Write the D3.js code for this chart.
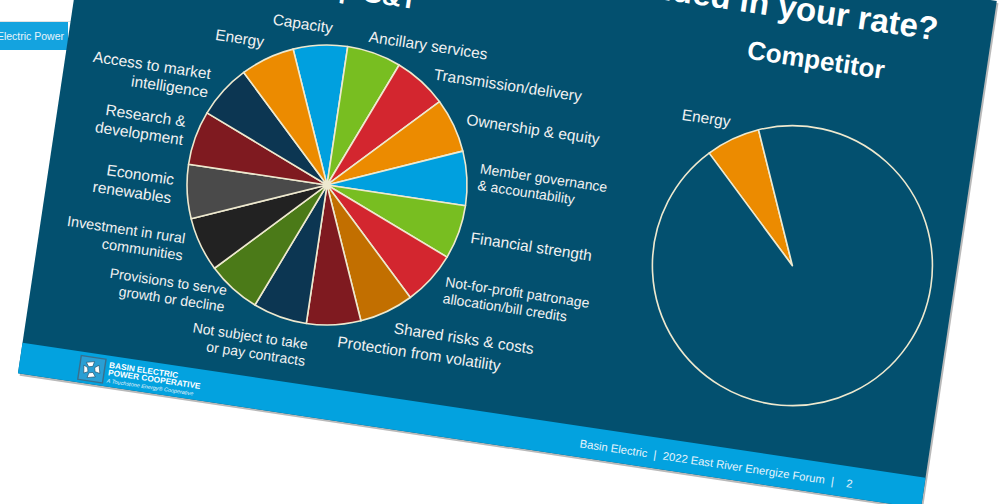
<!DOCTYPE html>
<html>
<head>
<meta charset="utf-8">
<script src="https://cdn.jsdelivr.net/npm/d3@7"></script>
<style>
  html, body { margin: 0; padding: 0; background: #fff; overflow: hidden; }
  text { font-family: "Liberation Sans", Arial, sans-serif; }
</style>
</head>
<body>
<div id="chart"></div>
<script>
// --- data ---
const coopCategories = [
    "Capacity", "Ancillary services", "Transmission/delivery", "Ownership & equity",
    "Member governance\n& accountability", "Financial strength",
    "Not-for-profit patronage\nallocation/bill credits", "Shared risks & costs",
    "Protection from volatility", "Not subject to take\nor pay contracts",
    "Provisions to serve\ngrowth or decline", "Investment in rural\ncommunities",
    "Economic\nrenewables", "Research &\ndevelopment", "Access to market\nintelligence", "Energy"
]
const coopValues = [1, 1, 1, 1, 1, 1, 1, 1, 1, 1, 1, 1, 1, 1, 1, 1]
const compCategories = ["Energy", "Other"]
const compValues = [1, 15]

const titleText = "What\u2019s included in your rate?"
const coopTitle = "Co-op G&T"
const compTitle = "Competitor"
const footerText = "Basin Electric  |  2022 East River Energize Forum  |    2"

// --- styles ---
const bg = "#03506f"
const cyan = "#03a2df"
const cream = "#eee9cf"
const coopColors = [
    "#00a0df", "#78be21", "#d3262f", "#ec8b00", "#00a0df", "#78be21", "#d3262f", "#c26f00",
    "#7f1a20", "#0c3652", "#4b7a18", "#222222", "#4a4a4a", "#7f1a20", "#0c3652", "#ec8b00"
]
const compColors = ["#ec8b00", bg]

// label nudges (px) applied after placing labels just outside each slice
const coopNudge = [
    [12, -7], [-10, -4], [5, 1], [2, -1], [0, -1], [1, 1], [5, 2], [3, 5],
    [4, 4], [34, 20], [1, 1], [-6, -2], [-3, -3], [0, -3], [-5, 1], [1, -6]
]
// some of the wrapped labels are set smaller in the slide
const coopLabelSize = [
    15.5, 15.5, 15.5, 15.5, 14, 15.5, 14, 15.5,
    15.5, 14, 14, 14.5, 15.5, 15.5, 15.5, 15.5
]
const compNudge = [[2, -7], [0, 0]]
const compLabelSize = [15.5, 15.5]

const width = 1000, height = 504
const W = 913, H = 513, footerH = 31
const R = 140

const svg = d3.select("#chart").append("svg")
    .attr("width", width)
    .attr("height", height)
    .attr("viewBox", [0, 0, width, height])

// page tab behind the slide
svg.append("rect").attr("x", -5).attr("y", 22).attr("width", 73).attr("height", 28).attr("fill", "#14a3df")
svg.append("line").attr("x1", 0).attr("x2", 80).attr("y1", 21.5).attr("y2", 21.5).attr("stroke", "#e2e2e2")
svg.append("text")
    .attr("x", 64).attr("y", 40)
    .attr("text-anchor", "end")
    .attr("font-size", "10.5px")
    .attr("fill", "#e8f4fb")
    .text("Electric Power")

// slide (rotated)
const slide = svg.append("g").attr("transform", "translate(93.8,-134) rotate(8.5)")

slide.append("rect").attr("x", 2).attr("y", 2).attr("width", W).attr("height", H).attr("fill", "#b9b9b9")
slide.append("rect").attr("width", W).attr("height", H).attr("fill", bg)
slide.append("rect").attr("y", H - footerH).attr("width", W).attr("height", footerH).attr("fill", cyan)

slide.append("text")
    .attr("x", 859).attr("y", 48)
    .attr("text-anchor", "end")
    .attr("font-size", "33px").attr("font-weight", "bold")
    .attr("fill", "#fff")
    .text(titleText)

function drawPie(cx, cy, title, cats, vals, colors, nudges, sizes, labelFilter) {
    const g = slide.append("g").attr("transform", `translate(${cx},${cy})`)
    const pie = d3.pie().sort(null).value(d => d)
    const arcs = pie(vals).map((a, i) => ({ ...a, i }))

    const startShift = cats.length > 2 ? -Math.PI / 8 : -Math.PI / 4
    arcs.forEach(a => { a.startAngle += startShift; a.endAngle += startShift })

    const arc = d3.arc().innerRadius(0).outerRadius(R)
    const labelArc = d3.arc().innerRadius(R + 12).outerRadius(R + 12)

    g.selectAll("path")
        .data(arcs)
        .join("path")
        .attr("d", arc)
        .attr("fill", d => colors[d.i])
        .attr("stroke", cream)
        .attr("stroke-width", 1.6)
        .attr("stroke-linejoin", "round")

    g.append("circle").attr("r", 3).attr("fill", cream).attr("opacity", cats.length > 2 ? 1 : 0)

    g.selectAll("text.lbl")
        .data(arcs.filter(d => labelFilter(cats[d.i])))
        .join("text")
        .attr("class", "lbl")
        .attr("font-size", d => sizes[d.i] + "px")
        .attr("fill", "#f1f1f1")
        .each(function(d) {
            const [px, py] = labelArc.centroid(d)
            const mid = (d.startAngle + d.endAngle) / 2
            const lines = cats[d.i].split("\n")
            const fs = sizes[d.i], lh = fs * 1.2
            const [nx, ny] = nudges[d.i]
            const x = px + nx
            const y0 = py - (lines.length - 1) * lh / 2 + 0.35 * fs + ny
            const t = d3.select(this)
                .attr("text-anchor", Math.sin(mid) >= 0 ? "start" : "end")
            lines.forEach((ln, k) => {
                t.append("tspan").attr("x", x).attr("y", y0 + k * lh).text(ln)
            })
        })

    g.append("text")
        .attr("x", -7).attr("y", 94 - cy)
        .attr("text-anchor", "middle")
        .attr("font-size", "26px").attr("font-weight", "bold")
        .attr("fill", "#fff")
        .text(title)
}

drawPie(277.8, 281, coopTitle, coopCategories, coopValues, coopColors, coopNudge, coopLabelSize, () => true)
drawPie(750, 292, compTitle, compCategories, compValues, compColors, compNudge, compLabelSize, c => c !== "Other")

// footer text
slide.append("text")
    .attr("x", 566).attr("y", 503)
    .attr("font-size", "11.3px")
    .attr("fill", "#e6f3fb")
    .style("white-space", "pre")
    .text(footerText)

// logo
const logo = slide.append("g").attr("transform", "translate(60,486)")
logo.append("rect").attr("width", 25).attr("height", 24).attr("fill", "#2a9fd4")
    .attr("stroke", "#3a6f8c").attr("stroke-width", 1.4)
logo.append("path")
    .attr("d", "M6,6 L14,4 L13,9 L9,10 Z M19,7 L21,15 L16,14 L15,10 Z M17,19 L9,21 L10,16 L14,15 Z M5,17 L4,9 L8,11 L9,15 Z")
    .attr("fill", "#fff").attr("stroke", "#1d4a63").attr("stroke-width", 0.6)
logo.append("text").attr("x", 29).attr("y", 8).attr("font-size", "8.3px").attr("font-weight", "bold")
    .attr("fill", "#fff").text("BASIN ELECTRIC")
logo.append("text").attr("x", 29).attr("y", 15.5).attr("font-size", "8.3px").attr("font-weight", "bold")
    .attr("fill", "#fff").text("POWER COOPERATIVE")
logo.append("text").attr("x", 29).attr("y", 23).attr("font-size", "5.5px").attr("font-style", "italic")
    .attr("fill", "#e8f4fb").text("A Touchstone Energy\u00ae Cooperative")
</script>
</body>
</html>
